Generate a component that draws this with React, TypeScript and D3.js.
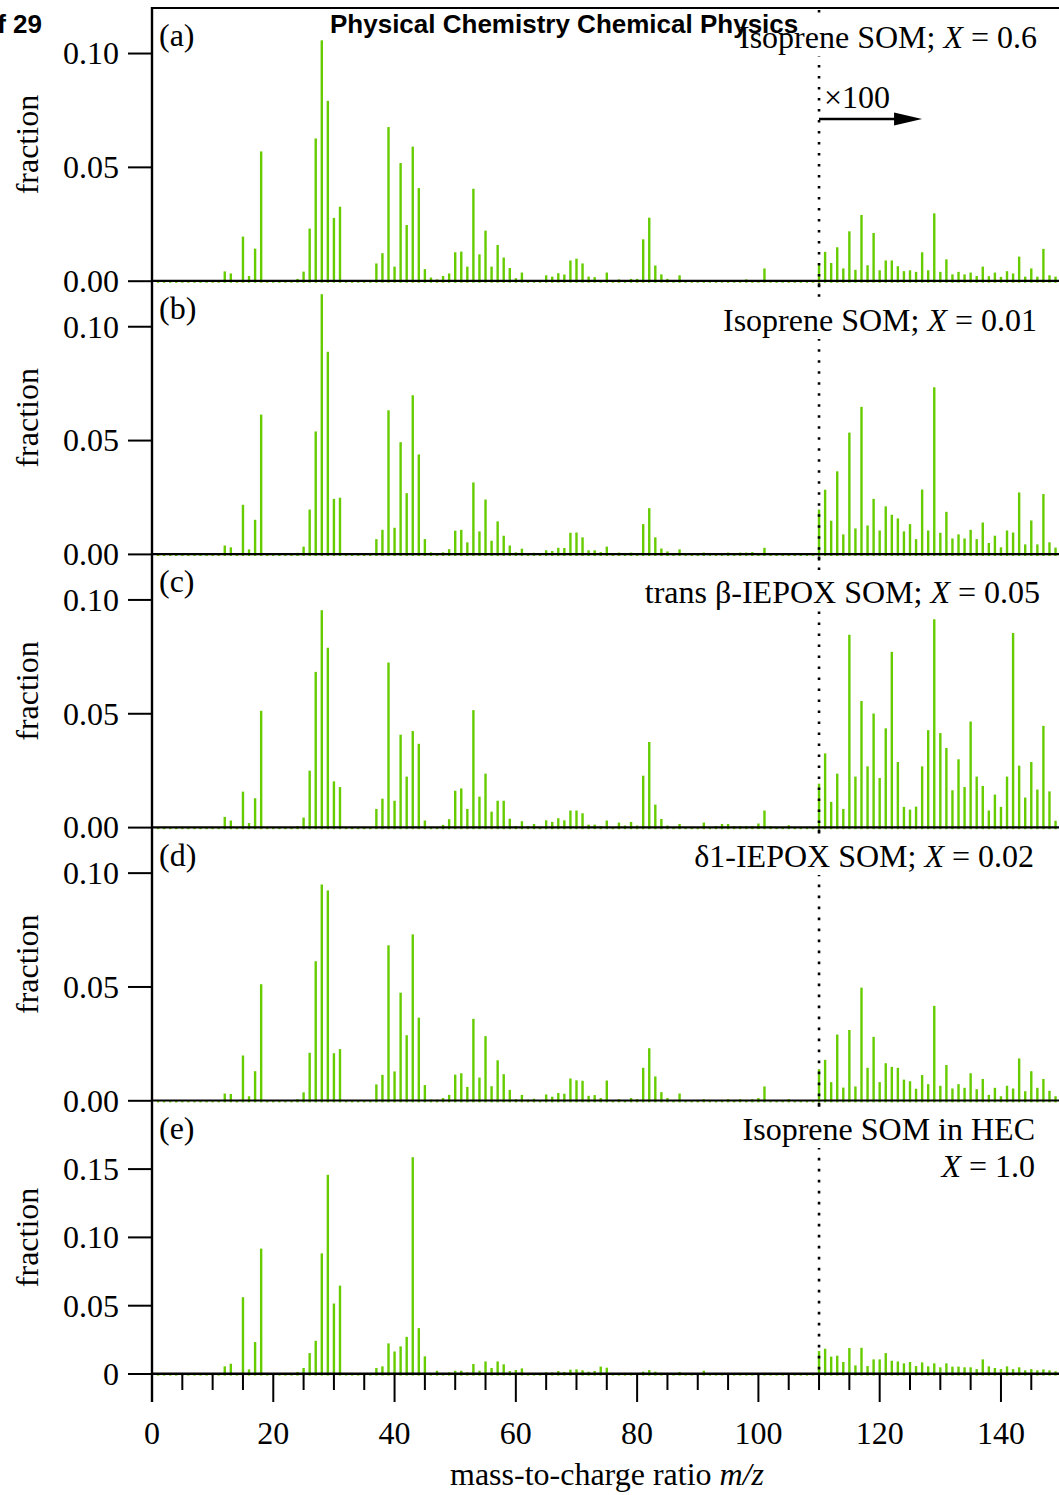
import React, { useEffect, useRef } from "react";
import * as d3 from "d3";

// m/z categories 1..150
const MZ: number[] = d3.range(1, 151);

// Displayed fractions per m/z (values right of m/z 110 are shown ×100, as plotted)
const panelA = [
  0, 0, 0, 0, 0, 0, 0, 0, 0, 0,
  0, 0.0043, 0.0034, 0, 0.0196, 0.0023, 0.0143, 0.057, 0, 0,
  0, 0, 0, 0.001, 0.0042, 0.0231, 0.0627, 0.1058, 0.0792, 0.0278,
  0.0327, 0, 0, 0, 0, 0, 0.0078, 0.0123, 0.0677, 0.0064,
  0.0519, 0.0247, 0.0591, 0.0409, 0.0053, 0.0016, 0.0008, 0.0023, 0.0034, 0.0127,
  0.013, 0.0064, 0.0406, 0.0118, 0.0222, 0.0064, 0.0159, 0.0104, 0.0058, 0.0013,
  0.0038, 0.0005, 0.0005, 0, 0.0026, 0.002, 0.0035, 0.0029, 0.0091, 0.0099,
  0.0078, 0.002, 0.0018, 0.0005, 0.0038, 0, 0.0008, 0, 0.001, 0.001,
  0.0184, 0.0279, 0.0069, 0.003, 0.001, 0, 0.0026, 0, 0, 0,
  0.0005, 0, 0, 0, 0, 0, 0, 0.0008, 0, 0,
  0.0056, 0, 0, 0, 0, 0, 0, 0, 0, 0.0078,
  0.0129, 0.008, 0.0149, 0.0056, 0.0219, 0.005, 0.0291, 0.007, 0.0212, 0.0048,
  0.0091, 0.0091, 0.0066, 0.0044, 0.0048, 0.0041, 0.0127, 0.0048, 0.0298, 0.0041,
  0.0096, 0.003, 0.0041, 0.003, 0.0038, 0.0023, 0.0064, 0.0022, 0.0038, 0.0019,
  0.0044, 0.0034, 0.0108, 0.002, 0.0056, 0.002, 0.0142, 0.0026, 0.002, 0.002,
];

const panelB = [
  0, 0, 0, 0, 0, 0, 0, 0, 0, 0,
  0, 0.0039, 0.0031, 0, 0.0218, 0.0022, 0.0152, 0.0614, 0, 0,
  0, 0, 0, 0.0007, 0.0034, 0.0197, 0.054, 0.1143, 0.089, 0.0244,
  0.0249, 0, 0, 0, 0, 0, 0.0067, 0.0108, 0.0633, 0.0117,
  0.0493, 0.0269, 0.0699, 0.0439, 0.0067, 0.0009, 0.0006, 0.0009, 0.0023, 0.0104,
  0.0108, 0.0053, 0.0316, 0.0101, 0.0241, 0.006, 0.0145, 0.0082, 0.0039, 0.0009,
  0.0025, 0.0005, 0.0007, 0, 0.0018, 0.0015, 0.0029, 0.0028, 0.0095, 0.0096,
  0.0075, 0.0018, 0.0018, 0.001, 0.0034, 0, 0.0008, 0, 0.0008, 0,
  0.0133, 0.0203, 0.0075, 0.0026, 0.0013, 0, 0.0022, 0, 0, 0,
  0.0008, 0, 0, 0, 0.0008, 0.0006, 0.0008, 0.0008, 0.001, 0,
  0.0029, 0, 0, 0, 0, 0, 0, 0, 0, 0.0197,
  0.0284, 0.0148, 0.0365, 0.0088, 0.0535, 0.0114, 0.0648, 0.0127, 0.0244, 0.0105,
  0.0211, 0.0174, 0.0158, 0.0101, 0.0133, 0.0067, 0.0285, 0.0105, 0.0734, 0.0095,
  0.0187, 0.007, 0.0088, 0.007, 0.0108, 0.0067, 0.014, 0.005, 0.0082, 0.0031,
  0.0105, 0.0096, 0.0272, 0.0044, 0.0149, 0.0044, 0.0265, 0.0053, 0.003, 0,
];

const panelC = [
  0, 0, 0, 0, 0, 0, 0, 0, 0, 0,
  0, 0.0047, 0.0031, 0, 0.0158, 0.002, 0.0129, 0.0513, 0, 0,
  0, 0, 0, 0.0007, 0.0044, 0.025, 0.0684, 0.0955, 0.079, 0.0203,
  0.0178, 0, 0, 0, 0, 0, 0.0082, 0.0127, 0.0725, 0.0118,
  0.0408, 0.0224, 0.0424, 0.0368, 0.0031, 0.0003, 0.0003, 0.0012, 0.0037, 0.0162,
  0.0172, 0.0082, 0.0516, 0.0136, 0.0237, 0.007, 0.0118, 0.0118, 0.0039, 0.0006,
  0.0028, 0.0007, 0.0016, 0, 0.0032, 0.0025, 0.0041, 0.0032, 0.0075, 0.0075,
  0.0063, 0.0013, 0.0013, 0.0006, 0.0031, 0, 0.0022, 0.0009, 0.0025, 0.0009,
  0.0228, 0.0376, 0.0101, 0.0038, 0.0009, 0, 0.0016, 0, 0, 0,
  0.0022, 0, 0.0006, 0.0016, 0.0016, 0.0006, 0.0006, 0.0006, 0.0006, 0.0018,
  0.0075, 0.0006, 0, 0, 0.001, 0, 0, 0, 0, 0.0193,
  0.0326, 0.0113, 0.0237, 0.0082, 0.0847, 0.0224, 0.0556, 0.0269, 0.0501, 0.0218,
  0.0436, 0.0772, 0.0288, 0.0091, 0.0079, 0.0092, 0.0269, 0.0428, 0.0915, 0.0415,
  0.035, 0.0164, 0.03, 0.0178, 0.0466, 0.0224, 0.0183, 0.0075, 0.0145, 0.0091,
  0.0224, 0.0855, 0.0272, 0.0132, 0.0288, 0.0167, 0.0447, 0.0159, 0.003, 0,
];

const panelD = [
  0, 0, 0, 0, 0, 0, 0, 0, 0, 0,
  0, 0.0032, 0.003, 0, 0.0199, 0.002, 0.013, 0.0512, 0, 0,
  0, 0, 0, 0.0007, 0.0037, 0.0211, 0.0613, 0.095, 0.0924, 0.0209,
  0.0227, 0, 0, 0, 0, 0, 0.0072, 0.0114, 0.0683, 0.0129,
  0.0475, 0.0288, 0.0731, 0.0365, 0.0069, 0.0005, 0.0005, 0.0012, 0.0026, 0.0115,
  0.0121, 0.0061, 0.036, 0.0102, 0.0284, 0.0064, 0.0178, 0.0117, 0.0048, 0.0007,
  0.0026, 0.0005, 0.0009, 0, 0.0028, 0.0018, 0.0034, 0.0031, 0.0098, 0.009,
  0.0088, 0.0022, 0.0025, 0.0012, 0.0089, 0, 0.0007, 0, 0.0012, 0.0007,
  0.0145, 0.0231, 0.0107, 0.0038, 0.0012, 0, 0.0032, 0, 0, 0,
  0.0007, 0, 0, 0, 0.0007, 0, 0.0007, 0, 0.0007, 0.0012,
  0.0063, 0, 0, 0, 0.0007, 0, 0, 0, 0, 0.0139,
  0.018, 0.0082, 0.0291, 0.0058, 0.0311, 0.0063, 0.0497, 0.0145, 0.0281, 0.0082,
  0.0165, 0.0149, 0.0145, 0.0093, 0.0086, 0.0053, 0.0113, 0.0073, 0.0417, 0.0066,
  0.0157, 0.0054, 0.0073, 0.0057, 0.0121, 0.0051, 0.0096, 0.0026, 0.0057, 0.002,
  0.0066, 0.0054, 0.0186, 0.0042, 0.013, 0.0057, 0.0096, 0.0044, 0.002, 0,
];

const panelE = [
  0, 0, 0, 0, 0, 0, 0, 0, 0, 0,
  0, 0.0056, 0.0075, 0, 0.0562, 0.0034, 0.0234, 0.0918, 0, 0,
  0, 0, 0, 0.0015, 0.0044, 0.0153, 0.0243, 0.0883, 0.1458, 0.0516,
  0.0647, 0, 0, 0, 0, 0, 0.0044, 0.0056, 0.0224, 0.0165,
  0.0202, 0.0272, 0.1587, 0.0336, 0.0129, 0.0005, 0.0024, 0, 0.0012, 0.0024,
  0.0024, 0.0012, 0.0073, 0.0024, 0.0092, 0.0044, 0.0092, 0.0071, 0.0022, 0.0029,
  0.0041, 0.0005, 0.0005, 0, 0.0012, 0.0012, 0.0022, 0.0015, 0.0032, 0.0034,
  0.0027, 0.0017, 0.0022, 0.0054, 0.0046, 0, 0.0005, 0, 0.0008, 0.0005,
  0.0017, 0.0029, 0.0017, 0.0008, 0.0008, 0, 0.0015, 0, 0, 0,
  0.0024, 0, 0, 0, 0, 0, 0, 0, 0, 0,
  0.0008, 0, 0, 0, 0, 0, 0, 0, 0, 0.0168,
  0.0185, 0.0127, 0.0134, 0.0088, 0.019, 0.0063, 0.0192, 0.0058, 0.0107, 0.0107,
  0.0153, 0.0097, 0.0092, 0.0078, 0.0088, 0.0058, 0.0085, 0.0056, 0.0078, 0.0049,
  0.0078, 0.0054, 0.0054, 0.0049, 0.0049, 0.0036, 0.0107, 0.0056, 0.0044, 0.0036,
  0.0056, 0.0036, 0.0049, 0.0027, 0.0036, 0.0027, 0.0034, 0.0027, 0.002, 0,
];

const letters = ["(a)", "(b)", "(c)", "(d)", "(e)"];
const yMaxes = [0.12, 0.12, 0.12, 0.12, 0.2];
const yTicksABCD = [0, 0.05, 0.1];
const yTicksE = [0, 0.05, 0.1, 0.15];
const xTicksMajor = [0, 20, 40, 60, 80, 100, 120, 140];
const xTicksMinor = d3.range(0, 151, 5);
const scaleBreak = 110;

type Seg = { t: string; i?: boolean };
const labelA: Seg[][] = [[{ t: "Isoprene SOM; " }, { t: "X", i: true }, { t: " = 0.6" }]];
const labelB: Seg[][] = [[{ t: "Isoprene SOM; " }, { t: "X", i: true }, { t: " = 0.01" }]];
const labelC: Seg[][] = [[{ t: "trans β-IEPOX SOM; " }, { t: "X", i: true }, { t: " = 0.05" }]];
const labelD: Seg[][] = [[{ t: "δ1-IEPOX SOM; " }, { t: "X", i: true }, { t: " = 0.02" }]];
const labelE: Seg[][] = [[{ t: "Isoprene SOM in HEC" }], [{ t: "X", i: true }, { t: " = 1.0" }]];

export default function App() {
  const ref = useRef<SVGSVGElement>(null);

  useEffect(() => {
    const W = 1059, H = 1495;
    const svg = d3.select(ref.current!);
    svg.selectAll("*").remove();
    svg.attr("width", W).attr("height", H);

    const serif = "'Liberation Serif', 'Times New Roman', serif";
    const sans = "'Liberation Sans', Arial, sans-serif";
    const fs = 32;
    const green = "#66CC00";

    const x = d3.scaleLinear().domain([0, 150]).range([152, 152 + 150 * 6.064]);
    const top0 = 8, ph = 273.2;
    const xL = 152, xR = W;

    const panels = [
      { values: panelA, label: labelA, lx: 1037, ly: 48, ticks: yTicksABCD, fmt: d3.format(".2f") },
      { values: panelB, label: labelB, lx: 1037, ly: 331, ticks: yTicksABCD, fmt: d3.format(".2f") },
      { values: panelC, label: labelC, lx: 1040, ly: 603, ticks: yTicksABCD, fmt: d3.format(".2f") },
      { values: panelD, label: labelD, lx: 1034, ly: 867, ticks: yTicksABCD, fmt: d3.format(".2f") },
      { values: panelE, label: labelE, lx: 1035, ly: 1140, ticks: yTicksE, fmt: (v: number) => (v === 0 ? "0" : d3.format(".2f")(v)) },
    ];

    panels.forEach((p, i) => {
      const top = top0 + i * ph;
      const bottom = top + ph;
      const y = d3.scaleLinear().domain([0, yMaxes[i]]).range([bottom, top]);
      const g = svg.append("g");

      // bars
      g.selectAll("rect.bar")
        .data(MZ.map((m, k) => ({ m, v: p.values[k] })))
        .join("rect")
        .attr("class", "bar")
        .attr("x", (d) => x(d.m) - 1.2)
        .attr("width", 2.4)
        .attr("y", (d) => y(d.v))
        .attr("height", (d) => bottom + 1.6 - y(d.v))
        .attr("fill", green);

      // dotted line at scale break
      g.append("line")
        .attr("x1", x(scaleBreak)).attr("x2", x(scaleBreak))
        .attr("y1", top + 2).attr("y2", i === 4 ? bottom : bottom + 6)
        .attr("stroke", "#000").attr("stroke-width", 2.6)
        .attr("stroke-dasharray", "2.6 8.4");

      // label
      const lg = g.append("g");
      const texts: any[] = [];
      p.label.forEach((line, li) => {
        const t = lg.append("text")
          .attr("x", p.lx).attr("y", p.ly + li * 37)
          .attr("text-anchor", "end")
          .attr("font-family", serif).attr("font-size", fs).attr("fill", "#000");
        line.forEach((s) => {
          t.append("tspan").text(s.t).attr("font-style", s.i ? "italic" : "normal");
        });
        texts.push(t);
      });
      texts.forEach((t) => {
        const bb = (t.node() as SVGTextElement).getBBox();
        lg.insert("rect", "text")
          .attr("x", bb.x - 2).attr("y", bb.y + 1)
          .attr("width", bb.width + 4).attr("height", bb.height)
          .attr("fill", "#fff");
      });

      // panel letter
      g.append("text")
        .attr("x", 159).attr("y", top + 38)
        .attr("font-family", serif).attr("font-size", fs)
        .text(letters[i]);

      // zero line
      g.append("line")
        .attr("x1", xL).attr("x2", xR)
        .attr("y1", bottom - 0.3).attr("y2", bottom - 0.3)
        .attr("stroke", "#000").attr("stroke-width", i === 4 ? 2.6 : 2.2);

      // y ticks
      p.ticks.forEach((t) => {
        g.append("line")
          .attr("x1", 128).attr("x2", xL)
          .attr("y1", y(t)).attr("y2", y(t))
          .attr("stroke", "#000").attr("stroke-width", 2);
        g.append("text")
          .attr("x", 119).attr("y", y(t)).attr("dy", "0.34em")
          .attr("text-anchor", "end")
          .attr("font-family", serif).attr("font-size", fs)
          .text(p.fmt(t));
      });

      // y title
      g.append("text")
        .attr("transform", `translate(27,${(top + bottom) / 2}) rotate(-90)`)
        .attr("text-anchor", "middle").attr("dy", "0.33em")
        .attr("font-family", serif).attr("font-size", fs)
        .text("fraction");
    });

    // top border
    svg.append("line")
      .attr("x1", xL).attr("x2", xR).attr("y1", top0).attr("y2", top0)
      .attr("stroke", "#000").attr("stroke-width", 2.2);

    // left axis
    const yBottom = top0 + 5 * ph;
    svg.append("line")
      .attr("x1", xL).attr("x2", xL).attr("y1", top0 - 1).attr("y2", yBottom + 28)
      .attr("stroke", "#000").attr("stroke-width", 2.4);

    // x ticks
    xTicksMinor.forEach((v) => {
      const major = xTicksMajor.includes(v);
      svg.append("line")
        .attr("x1", x(v)).attr("x2", x(v))
        .attr("y1", yBottom).attr("y2", yBottom + (major ? 28 : 16))
        .attr("stroke", "#000").attr("stroke-width", 2);
    });
    xTicksMajor.forEach((v) => {
      svg.append("text")
        .attr("x", x(v)).attr("y", 1444)
        .attr("text-anchor", "middle")
        .attr("font-family", serif).attr("font-size", fs)
        .text(String(v));
    });

    // x title
    const xt = svg.append("text")
      .attr("x", 607).attr("y", 1485)
      .attr("text-anchor", "middle")
      .attr("font-family", serif).attr("font-size", fs);
    xt.append("tspan").text("mass-to-charge ratio ");
    xt.append("tspan").attr("font-style", "italic").text("m/z");

    // ×100 annotation in panel (a)
    const ax0 = x(scaleBreak);
    svg.append("text")
      .attr("x", ax0 + 5).attr("y", 108)
      .attr("font-family", serif).attr("font-size", fs)
      .text("×100");
    svg.append("line")
      .attr("x1", ax0).attr("x2", ax0 + 78).attr("y1", 119).attr("y2", 119)
      .attr("stroke", "#000").attr("stroke-width", 2.6);
    svg.append("path")
      .attr("d", `M${ax0 + 75},112.5 L${ax0 + 103},119 L${ax0 + 75},125.5 Z`)
      .attr("fill", "#000");

    // page header
    svg.append("text")
      .attr("x", 330).attr("y", 33)
      .attr("font-family", sans).attr("font-weight", "bold").attr("font-size", 26)
      .text("Physical Chemistry Chemical Physics");
    svg.append("text")
      .attr("x", 42).attr("y", 33).attr("text-anchor", "end")
      .attr("font-family", sans).attr("font-weight", "bold").attr("font-size", 26)
      .text("Page 20 of 29");
  }, []);

  return (
    <div style={{ position: "absolute", left: 0, top: 0 }}>
      <svg ref={ref} width={1059} height={1495} style={{ display: "block", background: "#fff" }} />
    </div>
  );
}
